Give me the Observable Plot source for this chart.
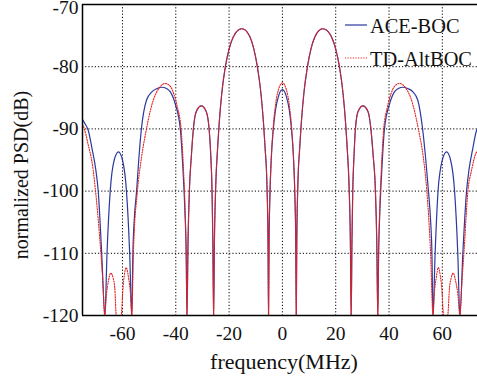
<!DOCTYPE html>
<html>
<head>
<meta charset="utf-8">
<script src="https://cdn.jsdelivr.net/npm/d3@7"></script>
<script src="https://cdn.jsdelivr.net/npm/@observablehq/plot@0.6"></script>
<style>
  html, body { margin: 0; padding: 0; background: #fff; }
  #chart { width: 477px; height: 381px; overflow: hidden; }
</style>
</head>
<body>
<div id="chart"></div>
<script>
// ---- data ----
const seriesNames = ["ACE-BOC", "TD-AltBOC"];
const seriesColors = ["#2b3a9e", "#e8201f"];

const xDomain = [-75, 73.2];
const yDomain = [-120, -70];
const xTicks = [-60, -40, -20, 0, 20, 40, 60];
const xTickLabels = ["-60", "-40", "-20", "0", "20", "40", "60"];
const yTicks = [-120, -110, -100, -90, -80, -70];
const yTickLabels = ["-120", "-110", "-100", "-90", "-80", "-70"];
const xLabel = "frequency(MHz)";
const yLabel = "normalized PSD(dB)";

// ACE-BOC (blue, solid)
const aceFreq = [
  -75, -74, -72.8, -71.5, -70.0, -69.1, -67.8, -66.6,
  -65.8, -64.6, -63.1, -61.5, -60.0, -58.5, -57.3, -56.5,
  -56.1, -55.5, -54.7, -53.9, -52.9, -51.0, -48.9, -47.0, -45.2, -43.5, -42.1, -40.2, -38.3, -37.3, -36.6, -36.1, -35.8,
  -35.4, -34.9, -34.1, -33.4, -32.3, -30.4, -28.6, -27.5, -26.9, -26.4, -26.1, -25.8,
  -25.5, -25.0, -24.3, -23.7, -22.8, -21.4, -19.9, -18.4, -16.8, -15.2, -13.7, -12.2, -10.8, -9.4, -8.0, -7.1, -6.5, -5.8, -5.4, -5.2,
  -5.0, -4.7, -4.2, -3.4, -2.6, -1.5, 0, 1.5, 2.6, 3.4, 4.2, 4.7, 5.0, 5.2,
  5.4, 5.8, 6.5, 7.1, 8.0, 9.4, 10.8, 12.2, 13.7, 15.2, 16.8, 18.4, 19.9, 21.4, 22.8, 23.7, 24.3, 25.0, 25.5, 25.8,
  26.1, 26.4, 26.9, 27.4, 28.4, 30.2, 32.1, 33.2, 34.0, 34.9, 35.4, 35.8,
  36.1, 36.6, 37.3, 38.3, 40.2, 42.1, 43.5, 45.2, 47.0, 48.9, 50.8, 52.6, 53.8, 54.8, 55.5, 56.1, 56.5,
  57.3, 58.4, 60.0, 61.6, 63.1, 64.6, 65.8, 66.6,
  67.7, 69.1, 70.0, 71.5, 72.8, 73.2, 74, 75
];
const acePsd = [
  -88.5, -89.2, -90.3, -93, -96.6, -100, -110, -120,
  -110, -100, -95, -93.7, -95, -100, -110, -120,
  -110, -104, -100, -95, -90, -85.4, -84, -83.5, -83.3, -83.5, -84, -86, -90, -96.6, -103, -110, -120,
  -108, -100, -94, -90, -87.2, -86.3, -87.2, -90, -94, -100, -108, -120,
  -108, -99, -93, -89, -84.5, -80, -77, -75.2, -74.2, -73.9, -74.2, -75.2, -77, -80, -84.5, -89, -93, -99, -108, -120,
  -108, -101, -95, -90, -87, -84.8, -83.7, -84.8, -87, -90, -95, -101, -108, -120,
  -108, -99, -93, -89, -84.5, -80, -77, -75.2, -74.2, -73.9, -74.2, -75.2, -77, -80, -84.5, -89, -93, -99, -108, -120,
  -108, -100, -94, -90, -87.2, -86.3, -87.2, -90, -94, -100, -108, -120,
  -110, -103, -96.6, -90, -86, -84, -83.5, -83.3, -83.5, -84, -85.4, -90, -95, -100, -104, -110, -120,
  -110, -100, -95, -93.7, -95, -100, -110, -120,
  -110, -100, -96.6, -93, -90.3, -89.9, -89.2, -88.5
];

// TD-AltBOC (red, dotted)
const tdFreq = [
  -75, -74.3, -73.0, -71.0, -70.1, -68.1, -67.3, -66.7,
  -66.0, -65.3, -64.4, -63.5, -62.9, -62.3, -60.5, -59.8, -59.3, -58.6, -57.7, -57.0, -56.5,
  -55.9, -54.4, -53.0, -51.0, -49.5, -48.3, -46.2, -43.9, -42.0, -40.8, -39.4, -38.0, -37.1, -36.5, -36.1, -35.8,
  -35.4, -34.9, -34.1, -33.4, -32.3, -30.4, -28.6, -27.5, -26.9, -26.4, -26.1, -25.8,
  -25.5, -25.0, -24.3, -23.7, -22.8, -21.4, -19.9, -18.4, -16.8, -15.2, -13.7, -12.2, -10.8, -9.4, -8.0, -7.1, -6.5, -5.8, -5.4, -5.2,
  -5.0, -4.7, -4.2, -3.5, -2.6, -1.5, 0, 1.5, 2.6, 3.5, 4.2, 4.7, 5.0, 5.2,
  5.4, 5.8, 6.5, 7.1, 8.0, 9.4, 10.8, 12.2, 13.7, 15.2, 16.8, 18.4, 19.9, 21.4, 22.8, 23.7, 24.3, 25.0, 25.5, 25.8,
  26.1, 26.4, 26.9, 27.4, 28.4, 30.2, 32.1, 33.2, 34.0, 34.9, 35.4, 35.8,
  36.1, 36.5, 37.1, 38.0, 39.4, 40.8, 42.0, 43.9, 46.2, 48.3, 49.5, 51.0, 53.0, 54.2, 55.6, 56.5,
  57.0, 57.7, 58.5, 59.2, 59.8, 60.5, 62.0, 62.7, 63.3, 64.1, 65.0, 65.8, 66.6,
  67.3, 68.1, 69.6, 71.0, 72.5, 73.2, 75
];
const tdPsd = [
  -89.3, -90, -92.3, -96.6, -100, -110, -115, -120,
  -116.5, -114.5, -113.2, -114, -115.5, -120, -120, -115.5, -113.5, -112.3, -114, -116.5, -120,
  -110, -100, -95, -90, -87, -85.2, -83.4, -82.7, -83.2, -84.3, -86.5, -90, -96.6, -103, -110, -120,
  -108, -100, -94, -90, -87.2, -86.3, -87.2, -90, -94, -100, -108, -120,
  -108, -99, -93, -89, -84.5, -80, -77, -75.2, -74.2, -73.9, -74.2, -75.2, -77, -80, -84.5, -89, -93, -99, -108, -120,
  -108, -101, -95, -90, -86.2, -83.7, -82.6, -83.7, -86.2, -90, -95, -101, -108, -120,
  -108, -99, -93, -89, -84.5, -80, -77, -75.2, -74.2, -73.9, -74.2, -75.2, -77, -80, -84.5, -89, -93, -99, -108, -120,
  -108, -100, -94, -90, -87.2, -86.3, -87.2, -90, -94, -100, -108, -120,
  -110, -103, -96.6, -90, -86.5, -84.3, -83.2, -82.7, -83.4, -85.2, -87, -90, -95, -100, -110, -120,
  -116.5, -114, -112.3, -113.5, -115.5, -120, -120, -115.5, -114, -113.2, -114.5, -116.5, -120,
  -115, -110, -100, -96.6, -94, -93.5, -90
];

// ---- build tables ----
const ace = aceFreq.map((f, i) => ({f, p: acePsd[i]}));
const td = tdFreq.map((f, i) => ({f, p: tdPsd[i]}));
const gridY = yTicks.filter(v => v !== yDomain[0] && v !== yDomain[1]);

const fontFamily = "'Liberation Serif', 'DejaVu Serif', serif";

const plot = Plot.plot({
  width: 477,
  height: 381,
  marginLeft: 82,
  marginRight: 0,
  marginTop: 4,
  marginBottom: 66,
  style: {fontFamily, fontSize: "19.5px", color: "#111", background: "white", overflow: "visible"},
  x: {domain: xDomain, ticks: xTicks, tickSize: 0, tickPadding: 11, label: null,
      tickFormat: d => xTickLabels[xTicks.indexOf(d)]},
  y: {domain: yDomain, ticks: yTicks, tickSize: 0, tickPadding: 4, label: null,
      tickFormat: d => yTickLabels[yTicks.indexOf(d)]},
  marks: [
    Plot.ruleX(xTicks, {stroke: "#000", strokeWidth: 1, strokeDasharray: "1.2,2"}),
    Plot.ruleY(gridY, {stroke: "#000", strokeWidth: 1, strokeDasharray: "1.2,2"}),
    Plot.line(ace, {x: "f", y: "p", stroke: seriesColors[0], strokeWidth: 1.2, curve: "monotone-x", clip: true}),
    Plot.line(td, {x: "f", y: "p", stroke: seriesColors[1], strokeWidth: 1.1, strokeDasharray: "1.2,1.4", curve: "monotone-x", clip: true}),
    Plot.ruleX([xDomain[0]], {stroke: "#000", strokeWidth: 1.5}),
    Plot.ruleY(yDomain, {stroke: "#000", strokeWidth: 1.5})
  ]
});

document.getElementById("chart").append(plot);

const svg = d3.select(plot);

// the top tick label sits slightly below its line in the reference
svg.selectAll("text").filter(function () { return this.textContent === yTickLabels[yTickLabels.length - 1]; })
  .attr("transform", function () { const t = d3.select(this).attr("transform") || ""; return t + " translate(0,3.5)"; });

// axis titles and in-plot legend
svg.append("text")
  .attr("x", 284).attr("y", 369)
  .attr("text-anchor", "middle")
  .attr("font-family", fontFamily).attr("font-size", 22).attr("fill", "#111")
  .text(xLabel);
svg.append("text")
  .attr("transform", "translate(28,175) rotate(-90)")
  .attr("text-anchor", "middle")
  .attr("font-family", fontFamily).attr("font-size", 20).attr("fill", "#111")
  .text(yLabel);

const legend = svg.append("g");
const legendRows = [25, 58];
seriesNames.forEach((name, i) => {
  const y = legendRows[i];
  legend.append("line")
    .attr("x1", 345).attr("x2", 367).attr("y1", y).attr("y2", y)
    .attr("stroke", seriesColors[i])
    .attr("stroke-width", i === 0 ? 1.2 : 1.1)
    .attr("stroke-dasharray", i === 0 ? null : "1.2,1.4");
  legend.append("text")
    .attr("x", 370).attr("y", y + 7.5)
    .attr("text-anchor", "start")
    .attr("font-family", fontFamily).attr("font-size", 20.4).attr("fill", "#111")
    .text(name);
});
</script>
</body>
</html>
